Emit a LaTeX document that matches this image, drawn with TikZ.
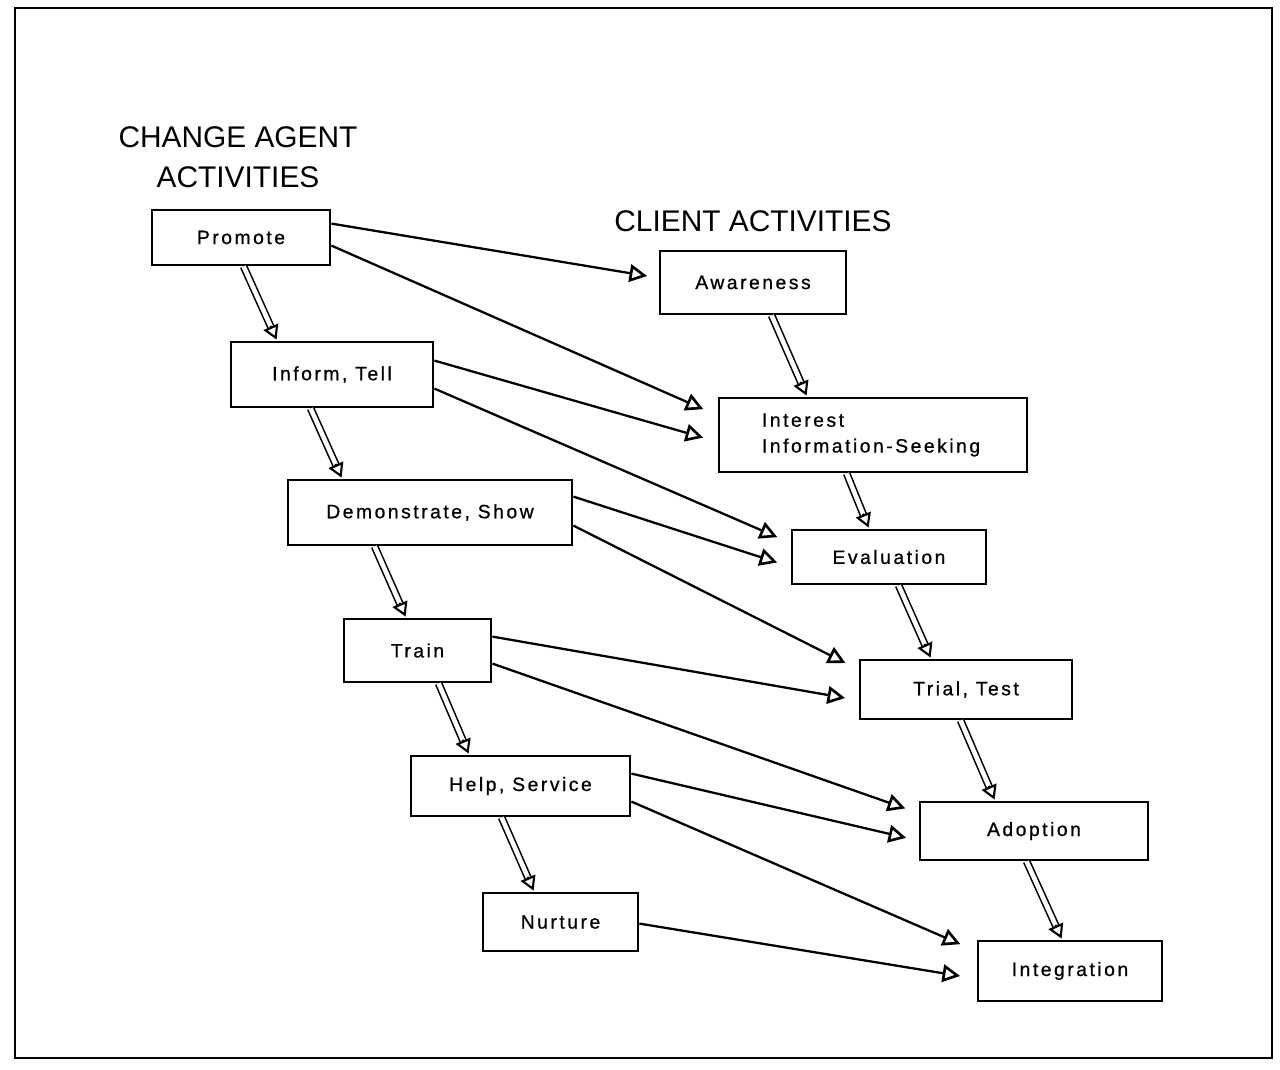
\documentclass[tikz,border=0pt]{standalone}
\usepackage{fontspec}
\setmainfont{Liberation Sans}
\newfontfamily\boxfont[LetterSpace=13,FakeBold=0.8]{Liberation Sans}
\usetikzlibrary{arrows.meta,calc}
\newlength\pxu
\setlength\pxu{0.02cm}
\tikzset{
  box/.style 2 args={draw, line width=1.6pt, rectangle, inner sep=0pt,
    minimum width=#1\pxu, minimum height=#2\pxu,
    font=\boxfont\fontsize{11}{14.7}\selectfont},
  heading/.style={font=\fontsize{17}{23}\selectfont, align=center, inner sep=0pt},
  link/.style={line width=1.3pt, shorten >=2pt,
    -{Triangle[open, length=10pt, width=10pt, line width=1.5pt]}},
  shaft/.style={line width=0.9pt, double, double distance=2.6pt},
  shafthead/.style={line width=1.2pt,
    -{Triangle[open, length=8pt, width=9pt]}},
  frame/.style={line width=1.2pt}
}
% hollow double-lined arrow between two points
\newcommand\hollowarrow[2]{%
  \draw[shaft, shorten >=7pt] (#1) -- (#2);
  \draw[shafthead] ($(#2)!8.5pt!(#1)$) -- (#2);
}
\begin{document}
\begin{tikzpicture}[x=0.02cm, y=-0.02cm]
\useasboundingbox (0,0) rectangle (1280,1070);
\draw[frame] (15,8) rectangle (1272,1058);

% headings
\node[heading] (agenthead) at (238,157) {CHANGE AGENT\\ACTIVITIES};
\node[heading] (clienthead) at (753,221) {CLIENT ACTIVITIES};

% change agent activities
\node[box={178}{55}] (promote) at (241,237.5) {Promote};
\node[box={202}{65}] (inform)  at (332,374.5) {Inform, Tell};
\node[box={284}{65}] (demo)    at (430,512.5) {Demonstrate, Show};
\node[box={147}{63}] (train)   at (417.5,650.5) {Train};
\node[box={219}{60}] (help)    at (520.5,786) {Help, Service};
\node[box={155}{58}] (nurture) at (560.5,922) {Nurture};

% client activities
\node[box={186}{63}] (aware)    at (753,282.5) {Awareness};
\node[box={308}{74}, text width=222\pxu, inner xsep=43\pxu, align=left]
      (interest) at (873,435) {Interest\\Information-Seeking};
\node[box={194}{54}] (eval)     at (889,557) {Evaluation};
\node[box={212}{59}] (trial)    at (966,689.5) {Trial, Test};
\node[box={228}{58}] (adopt)    at (1034,831) {Adoption};
\node[box={184}{60}] (integ)    at (1070,971) {Integration};

% sequence within each column
\coordinate (s1) at ($(promote.south west)+(93,0)$);
\coordinate (e1) at ($(inform.north west)+(47,-1)$);
\coordinate (s2) at ($(inform.south west)+(81,0)$);
\coordinate (e2) at ($(demo.north west)+(55,-1)$);
\coordinate (s3) at ($(demo.south west)+(88,0)$);
\coordinate (e3) at ($(train.north west)+(63,-1)$);
\coordinate (s4) at ($(train.south west)+(96,0)$);
\coordinate (e4) at ($(help.north west)+(59,-1)$);
\coordinate (s5) at ($(help.south west)+(92,0)$);
\coordinate (e5) at ($(nurture.north west)+(52,-1)$);
\coordinate (s6) at ($(aware.south west)+(113,0)$);
\coordinate (e6) at ($(interest.north west)+(89,-1)$);
\coordinate (s7) at ($(interest.south west)+(129,0)$);
\coordinate (e7) at ($(eval.north west)+(78,-1)$);
\coordinate (s8) at ($(eval.south west)+(108,0)$);
\coordinate (e8) at ($(trial.north west)+(72,-1)$);
\coordinate (s9) at ($(trial.south west)+(102,0)$);
\coordinate (e9) at ($(adopt.north west)+(76,-1)$);
\coordinate (s10) at ($(adopt.south west)+(108,0)$);
\coordinate (e10) at ($(integ.north west)+(85,-1)$);
\foreach \i in {1,...,10}{\hollowarrow{s\i}{e\i}}

% links from change agent to client activities
\draw[link] ($(promote.north east)+(0,15)$) -- ($(aware.north west)+(-8,27)$);
\draw[link] ($(promote.north east)+(0,37)$) -- ($(interest.north west)+(-11,14)$);
\draw[link] ($(inform.north east)+(0,20)$)  -- ($(interest.north west)+(-11,42)$);
\draw[link] ($(inform.north east)+(0,48)$)  -- ($(eval.north west)+(-10,10)$);
\draw[link] ($(demo.north east)+(0,18)$)    -- ($(eval.north west)+(-10,35)$);
\draw[link] ($(demo.north east)+(0,47)$)    -- ($(trial.north west)+(-10,6)$);
\draw[link] ($(train.north east)+(0,19)$)   -- ($(trial.north west)+(-10,40)$);
\draw[link] ($(train.north east)+(0,46)$)   -- ($(adopt.north west)+(-10,9)$);
\draw[link] ($(help.north east)+(0,19)$)    -- ($(adopt.north west)+(-9,38)$);
\draw[link] ($(help.north east)+(0,47)$)    -- ($(integ.north west)+(-13,6)$);
\draw[link] ($(nurture.north east)+(0,32)$) -- ($(integ.north west)+(-13,37)$);
\end{tikzpicture}
\end{document}
